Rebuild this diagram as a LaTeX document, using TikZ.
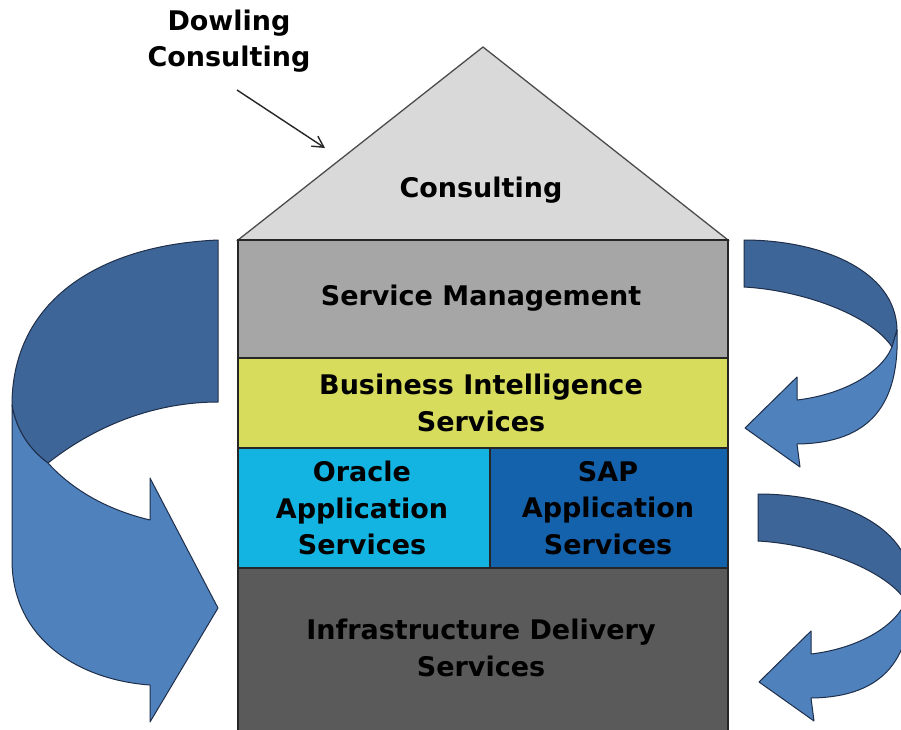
\documentclass[tikz,border=0pt]{standalone}
\usepackage{fontspec}
\setmainfont{DejaVu Sans}
\usetikzlibrary{arrows.meta}
\definecolor{roofgray}{HTML}{D9D9D9}
\definecolor{smgray}{HTML}{A6A6A6}
\definecolor{biyellow}{HTML}{D7DC5C}
\definecolor{oracyan}{HTML}{14B4E2}
\definecolor{sapblue}{HTML}{1562AC}
\definecolor{infragray}{HTML}{5A5A5A}
\definecolor{bandDark}{HTML}{3E6597}
\definecolor{bandLight}{HTML}{4F81BD}
\definecolor{bandLine}{HTML}{1F2F4A}
\begin{document}
\begin{tikzpicture}[x=1pt,y=-1pt,
  lbl/.style={font=\fontsize{27}{36.5}\selectfont\bfseries, align=center, text=black},
  house/.style={draw=black!85, line width=1.3pt},
  darkband/.style={fill=bandDark, draw=bandLine, line width=1pt, line join=round},
  lightband/.style={fill=bandLight, draw=bandLine, line width=1pt, line join=round}]
\useasboundingbox (0,0) rectangle (901,729);
\clip (0,0) rectangle (901,729);
\fill[white] (0,0) rectangle (901,729);
% roof
\draw[house, draw=black!70, fill=roofgray] (238,240) -- (483,47) -- (728,240) -- cycle;
\node[lbl] (cons) at (481,190) {Consulting};
% layers
\draw[house, fill=smgray] (238,240) rectangle (728,358);
\node[lbl] (sm) at (481,298) {Service Management};
\draw[house, fill=biyellow] (238,358) rectangle (728,448);
\node[lbl] (bi) at (481,403) {Business Intelligence\\Services};
\draw[house, fill=oracyan] (238,448) rectangle (490,568);
\node[lbl] (ora) at (362,508) {Oracle\\Application\\Services};
\draw[house, fill=sapblue] (490,448) rectangle (728,568);
\node[lbl] (sap) at (608,508) {SAP\\Application\\Services};
\draw[house, fill=infragray] (238,568) rectangle (728,740);
\node[lbl] (inf) at (481,648) {Infrastructure Delivery\\Services};
% Dowling label and pointer
\node[lbl] (dc) at (229,41) {Dowling\\Consulting};
\coordinate (ps) at (237,90);
\coordinate (pe) at (325,148);
\draw[line width=1.4pt, black!85, -{Straight Barb[length=11pt,width=12pt]}] (ps) -- (pe);
% left arrow
\draw[darkband] (218,240) .. controls (100,245) and (12,300) .. (12,405)
  .. controls (16,430) and (30,450) .. (48,463)
  .. controls (100,422) and (160,402) .. (218,402) -- cycle;
\draw[lightband] (12,405) -- (12,560) .. controls (12,640) and (80,680) .. (150,685)
  -- (150,722) -- (218,608) -- (150,478) -- (150,520)
  .. controls (100,508) and (68,485) .. (48,463)
  .. controls (30,450) and (16,430) .. (12,405) -- cycle;
% right arrows
\foreach \dx/\dy in {0/0, 14/254}{
\begin{scope}[shift={(\dx,\dy)}]
\draw[darkband] (744,240) .. controls (820,240) and (896,270) .. (897,330)
  -- (892,347) .. controls (870,314) and (800,290) .. (744,287) -- cycle;
\draw[lightband] (897,330) .. controls (900,405) and (870,443) .. (797,444)
  -- (800,467) -- (745,428) -- (797,377) -- (797,400)
  .. controls (840,395) and (880,375) .. (892,347) -- cycle;
\end{scope}}
\end{tikzpicture}
\end{document}
